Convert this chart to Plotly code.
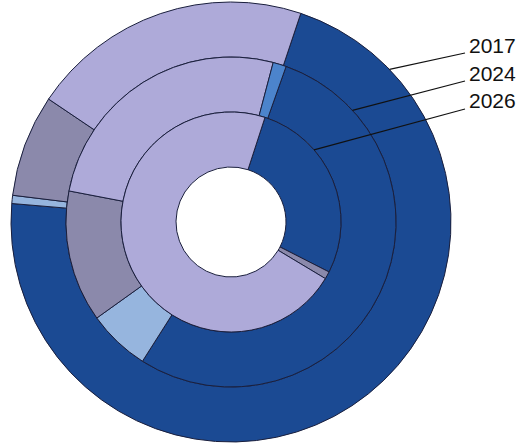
import math
import plotly.graph_objects as go

# ---- data (percent shares) ----
categories = ["Dark blue", "Light blue", "Grey", "Lavender", "Mid blue"]
years = ["2017", "2024", "2026"]
share_2017 = [71.2, 0.6, 7.5, 20.7, 0.0]
share_2024 = [53.6, 6.1, 12.9, 26.1, 1.3]
share_2026 = [27.5, 0.0, 1.1, 71.4, 0.0]

colors = ["#1b4a93", "#96b5de", "#8b89ab", "#aeaad9", "#4c84cc"]
edge = "#1a1f3d"

W, H = 520, 445
CX, CY = 231, 222          # centre in pixels
R = 220                     # outer radius in pixels
ring_w = 55                 # ring width in pixels
rotations = [18.5, 19.5, 18.0]

fig = go.Figure()
rings = [share_2017, share_2024, share_2026]
for k, vals in enumerate(rings):
    r_out = R - k * ring_w
    r_in = r_out - ring_w
    labs = [c for c, v in zip(categories, vals) if v > 0]
    vv = [v for v in vals if v > 0]
    cc = [col for col, v in zip(colors, vals) if v > 0]
    fig.add_trace(go.Pie(
        labels=labs, values=vv, sort=False, direction="clockwise",
        rotation=rotations[k], hole=r_in / r_out,
        marker=dict(colors=cc, line=dict(color=edge, width=1)),
        textinfo="none", hoverinfo="label+percent", showlegend=False,
        name=years[k],
        domain=dict(x=[(CX - r_out) / W, (CX + r_out) / W],
                    y=[(H - CY - r_out) / H, (H - CY + r_out) / H]),
    ))

# leader lines + labels
label_y = [45, 73, 100]
line_end_y = [53, 81, 109]
line_angles = [46.1, 47.4, 49.0]
text_x = 467
for k, yr in enumerate(years):
    r_out = R - k * ring_w
    a = math.radians(line_angles[k])
    px0 = CX + r_out * math.sin(a)
    py0 = CY - r_out * math.cos(a)
    fig.add_shape(type="line", xref="paper", yref="paper",
                  x0=px0 / W, y0=1 - py0 / H,
                  x1=(text_x - 2) / W, y1=1 - line_end_y[k] / H,
                  line=dict(color="#111111", width=1.2))
    fig.add_annotation(text=yr, xref="paper", yref="paper",
                       x=text_x / W, y=1 - label_y[k] / H,
                       xanchor="left", yanchor="middle", showarrow=False,
                       font=dict(family="Liberation Sans, Arial", size=21, color="#111111"))

fig.update_layout(width=W, height=H, margin=dict(l=0, r=0, t=0, b=0),
                  paper_bgcolor="white", plot_bgcolor="white")
fig.write_html("out.html")
